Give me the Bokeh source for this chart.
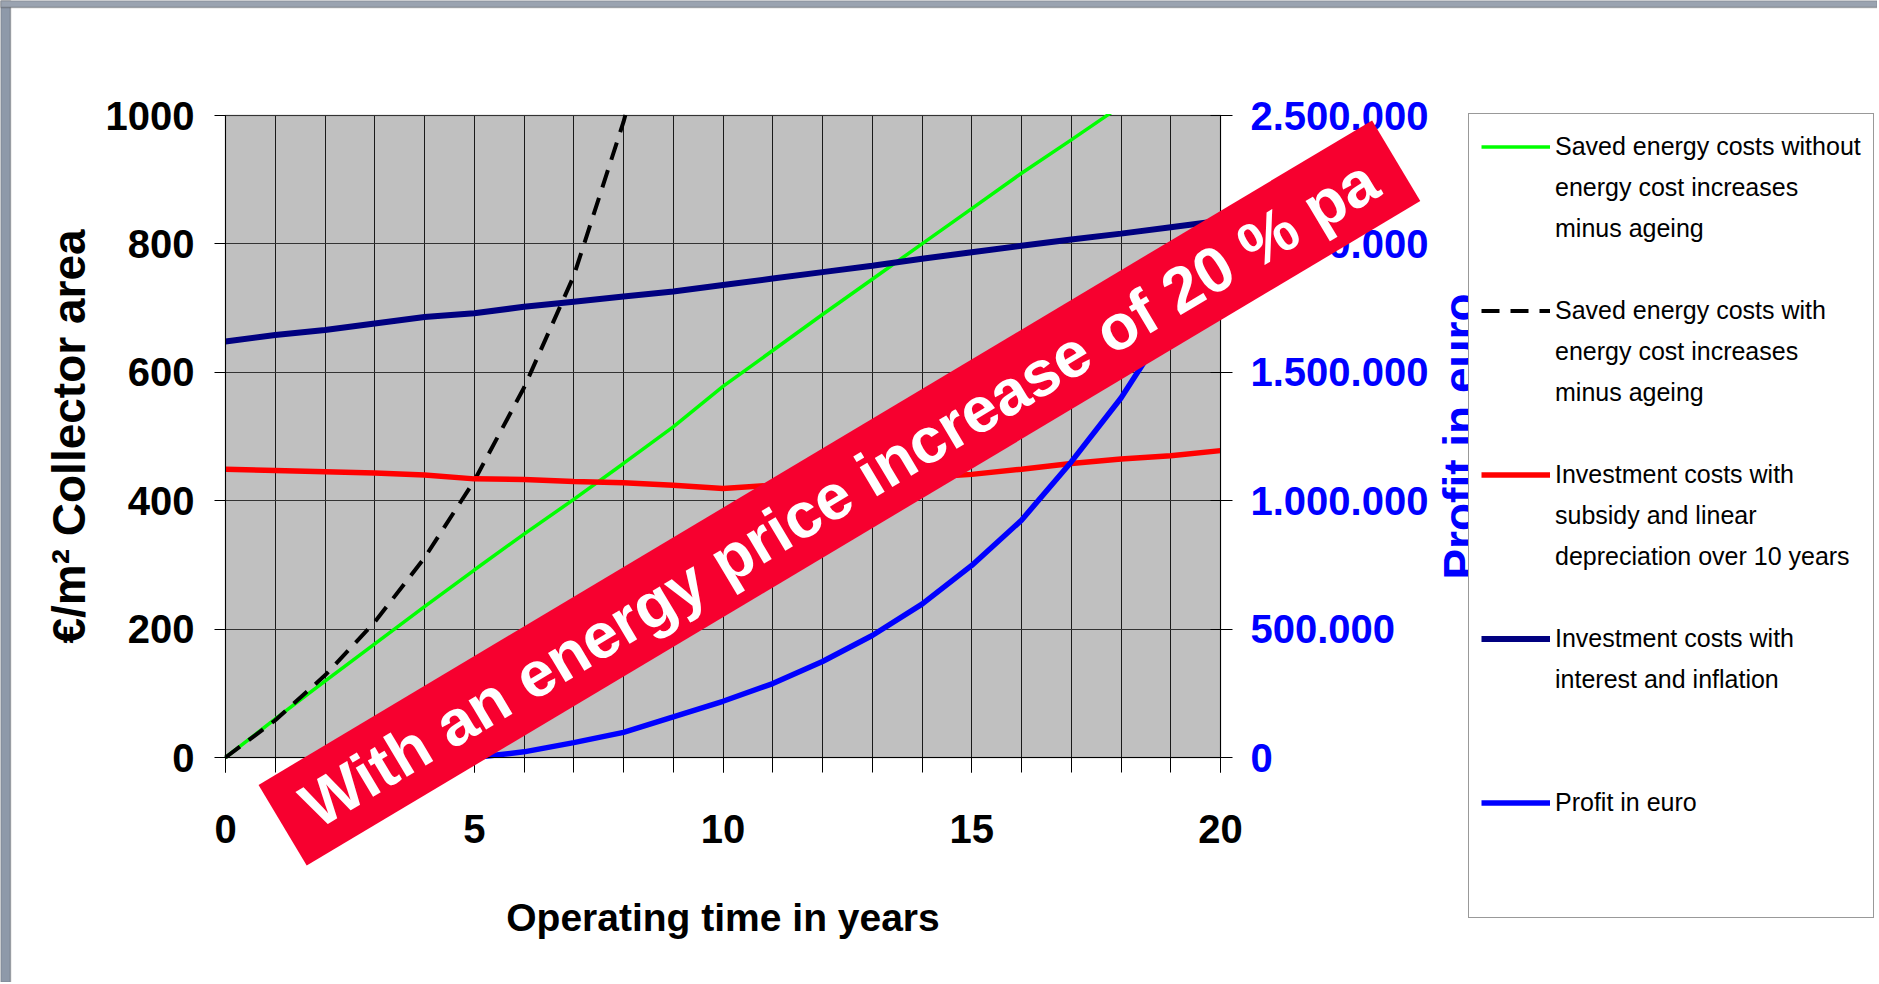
import math
from bokeh.plotting import figure
from bokeh.models import (Range1d, LinearAxis, FixedTicker, SingleIntervalTicker,
                          Legend, LegendItem, Label, BoxAnnotation)
from bokeh.embed import file_html
from bokeh.resources import INLINE

# ---------------- data ----------------
years = list(range(0, 21))
saved_without_increase = [0, 60, 119, 177, 235, 292, 348, 402, 458, 515, 578,
                          634, 690, 745, 800, 855, 910, 962, 1015, 1067, 1118]
dashed_years = list(range(0, 10))
saved_with_increase = [0, 58, 128, 211, 311, 431, 576, 750, 990, 1280]
invest_subsidy = [449, 447, 445, 443, 440, 434, 433, 430, 428, 424, 419,
                  424, 428, 432, 436, 441, 449, 458, 465, 470, 478]
invest_interest = [648, 658, 666, 676, 686, 692, 702, 710, 718, 726, 736,
                   746, 756, 766, 777, 787, 797, 807, 816, 826, 836]
profit_years = list(range(5, 21))
profit_euro = [0, 22000, 58000, 98000, 158000, 219000, 288000, 374000, 475000,
               597000, 748000, 924000, 1151000, 1400000, 1700000, 2040000]

left_ticks = [0, 200, 400, 600, 800, 1000]
right_ticks = [0, 500000, 1000000, 1500000, 2000000, 2500000]
right_tick_labels = ["0", "500.000", "1.000.000", "1.500.000", "2.000.000", "2.500.000"]

legend_labels = [
    ["Saved energy costs without", "energy cost increases", "minus ageing"],
    ["Saved energy costs with", "energy cost increases", "minus ageing"],
    ["Investment costs with", "subsidy and linear", "depreciation over 10 years"],
    ["Investment costs with", "interest and inflation"],
    ["Profit in euro"],
]
x_title = "Operating time in years"
y_title = "€/m² Collector area"
y2_title = "Profit in euro"
banner_text = "With an energy price increase of 20 % pa"

# ---------------- layout constants (pixels) ----------------
W, H = 1877, 982
PLOT_L, PLOT_R, PLOT_T, PLOT_B = 225, 1220, 115, 757
X0, X1, Y0, Y1 = 0, 20, 0, 1000
PROFIT_MAX = 2500000
xs = (PLOT_R - PLOT_L) / (X1 - X0)
ys = (PLOT_B - PLOT_T) / (Y1 - Y0)
def xd(px): return X0 + (px - PLOT_L) / xs
def yd(py): return Y0 + (PLOT_B - py) / ys

FONT = "Liberation Sans"

p = figure(width=W, height=H,
           x_range=Range1d(xd(0), xd(W)), y_range=Range1d(yd(H), yd(0)),
           output_backend="svg", toolbar_location=None, min_border=0)
p.min_border_left = p.min_border_right = p.min_border_top = p.min_border_bottom = 0
p.background_fill_color = "white"
p.border_fill_color = "white"
p.outline_line_color = None
f = PROFIT_MAX / (Y1 - Y0)
p.extra_y_ranges = {"profit": Range1d(yd(H) * f, yd(0) * f)}

# plot area background
p.add_layout(BoxAnnotation(left=X0, right=X1, bottom=Y0, top=Y1, fill_color="#C0C0C0",
                           fill_alpha=1, line_color="#808080", line_width=2, level="image"))

# x axis
xa = p.xaxis[0]
xa.fixed_location = Y0
xa.bounds = (X0, X1)
xa.ticker = SingleIntervalTicker(interval=5, num_minor_ticks=5)
xa.major_tick_in = 0
xa.major_tick_out = 15
xa.minor_tick_in = 0
xa.minor_tick_out = 15
xa.axis_line_color = "black"
xa.major_tick_line_color = "black"
xa.minor_tick_line_color = "black"
xa.major_label_text_font = FONT
xa.major_label_text_font_style = "bold"
xa.major_label_text_font_size = "40px"
xa.major_label_text_color = "black"
xa.major_label_standoff = 42
xa.axis_label = x_title
xa.axis_label_text_font = FONT
xa.axis_label_text_font_style = "bold"
xa.axis_label_text_font_size = "39px"
xa.axis_label_text_color = "black"
xa.axis_label_standoff = 50

# left axis
ya = p.yaxis[0]
ya.fixed_location = X0
ya.bounds = (Y0, Y1)
ya.ticker = FixedTicker(ticks=left_ticks)
ya.major_tick_in = 0
ya.major_tick_out = 11
ya.axis_line_color = "black"
ya.major_tick_line_color = "black"
ya.major_label_text_font = FONT
ya.major_label_text_font_style = "bold"
ya.major_label_text_font_size = "40px"
ya.major_label_text_color = "black"
ya.major_label_standoff = 20
ya.axis_label = y_title
ya.axis_label_text_font = FONT
ya.axis_label_text_font_style = "bold"
ya.axis_label_text_font_size = "46px"
ya.axis_label_text_color = "black"
ya.axis_label_standoff = 8

# grids (limited to the plot area)
xg, yg = p.xgrid[0], p.ygrid[0]
xg.grid_line_color = "#1a1a1a"
xg.minor_grid_line_color = "#1a1a1a"
yg.grid_line_color = "#333333"
if "cross_bounds" in xg.properties():
    xg.cross_bounds = (Y0, Y1)
    yg.cross_bounds = (X0, X1)
else:
    xg.visible = False
    yg.visible = False
    p.segment(x0=years, y0=[Y0] * len(years), x1=years, y1=[Y1] * len(years),
              line_color="#1a1a1a", line_width=1, level="underlay")
    p.segment(x0=[X0] * len(left_ticks), y0=left_ticks, x1=[X1] * len(left_ticks), y1=left_ticks,
              line_color="#333333", line_width=1, level="underlay")

# right axis
ra = LinearAxis(y_range_name="profit", ticker=FixedTicker(ticks=right_ticks),
                major_label_overrides=dict(zip(right_ticks, right_tick_labels)))
ra.fixed_location = X1
ra.bounds = (0, PROFIT_MAX)
ra.major_tick_in = 10
ra.major_tick_out = 12
ra.axis_line_color = "black"
ra.major_tick_line_color = "black"
ra.major_label_text_font = FONT
ra.major_label_text_font_style = "bold"
ra.major_label_text_font_size = "40px"
ra.major_label_text_color = "#0000FF"
ra.major_label_standoff = 18
p.add_layout(ra, "right")

# series
r_green = p.line(years, saved_without_increase, line_color="#00FF00", line_width=3.5)
r_dash = p.line(dashed_years, saved_with_increase, line_color="black", line_width=4,
                line_dash="18 11")
r_red = p.line(years, invest_subsidy, line_color="#FF0000", line_width=5.5)
r_navy = p.line(years, invest_interest, line_color="#000080", line_width=6)
r_blue = p.line(profit_years, profit_euro, line_color="#0000FF", line_width=5.5,
                y_range_name="profit")

# keep the series inside the plot area at the top (white above the plot box)
p.add_layout(BoxAnnotation(left=xd(PLOT_L - 3), right=xd(PLOT_R + 5), bottom=yd(PLOT_T - 1.5),
                           fill_color="white", fill_alpha=1, line_color=None, level="guide"))

# banner
banner = Label(x=12.34, y=412, text=banner_text, angle=0.538,
               text_align="center", text_baseline="middle",
               text_color="white", text_font=FONT, text_font_style="bold",
               text_font_size="64px", background_fill_color="#F7002F",
               padding=dict(left=28, right=28, top=11, bottom=11))
p.add_layout(banner)

# title of the right (profit) axis, read bottom to top, partly hidden by the legend
p.add_layout(Label(x=xd(1459), y=(Y0 + Y1) / 2, text=y2_title, angle=math.pi / 2,
                   text_align="center", text_baseline="alphabetic",
                   text_color="#0000FF", text_font=FONT, text_font_style="bold",
                   text_font_size="46px"))

# legend: one row per text line, 4 rows per entry
renderers = [r_green, r_dash, r_red, r_navy, r_blue]
items = []
for k, (lines, r) in enumerate(zip(legend_labels, renderers)):
    slots = 4 if k < len(legend_labels) - 1 else 3
    rows = lines + [" "] * (slots - len(lines))
    for j, txt in enumerate(rows):
        items.append(LegendItem(label=txt, renderers=[r] if j == 0 else []))
legend = Legend(items=items, location=(1468, H - 918))
legend.label_text_font = FONT
legend.label_text_font_size = "25px"
legend.label_text_color = "black"
legend.glyph_width = 69
legend.glyph_height = 41
legend.label_height = 41
legend.label_standoff = 5
legend.padding = 12
legend.margin = 0
legend.spacing = 0
legend.border_line_color = "#333333"
legend.border_line_width = 1.5
legend.background_fill_color = "white"
legend.background_fill_alpha = 1
p.add_layout(legend)

# slide frame strips (left and top edge of the original slide)
p.add_layout(BoxAnnotation(right=xd(10), fill_color="#8E99A9", fill_alpha=1,
                           line_color="#333333", line_width=1.5, level="overlay"))
p.add_layout(BoxAnnotation(bottom=yd(7), fill_color="#9AA3B0", fill_alpha=1,
                           line_color="#333333", line_width=1.5, level="overlay"))

open("out.html", "w").write(file_html(p, INLINE, title="chart"))
